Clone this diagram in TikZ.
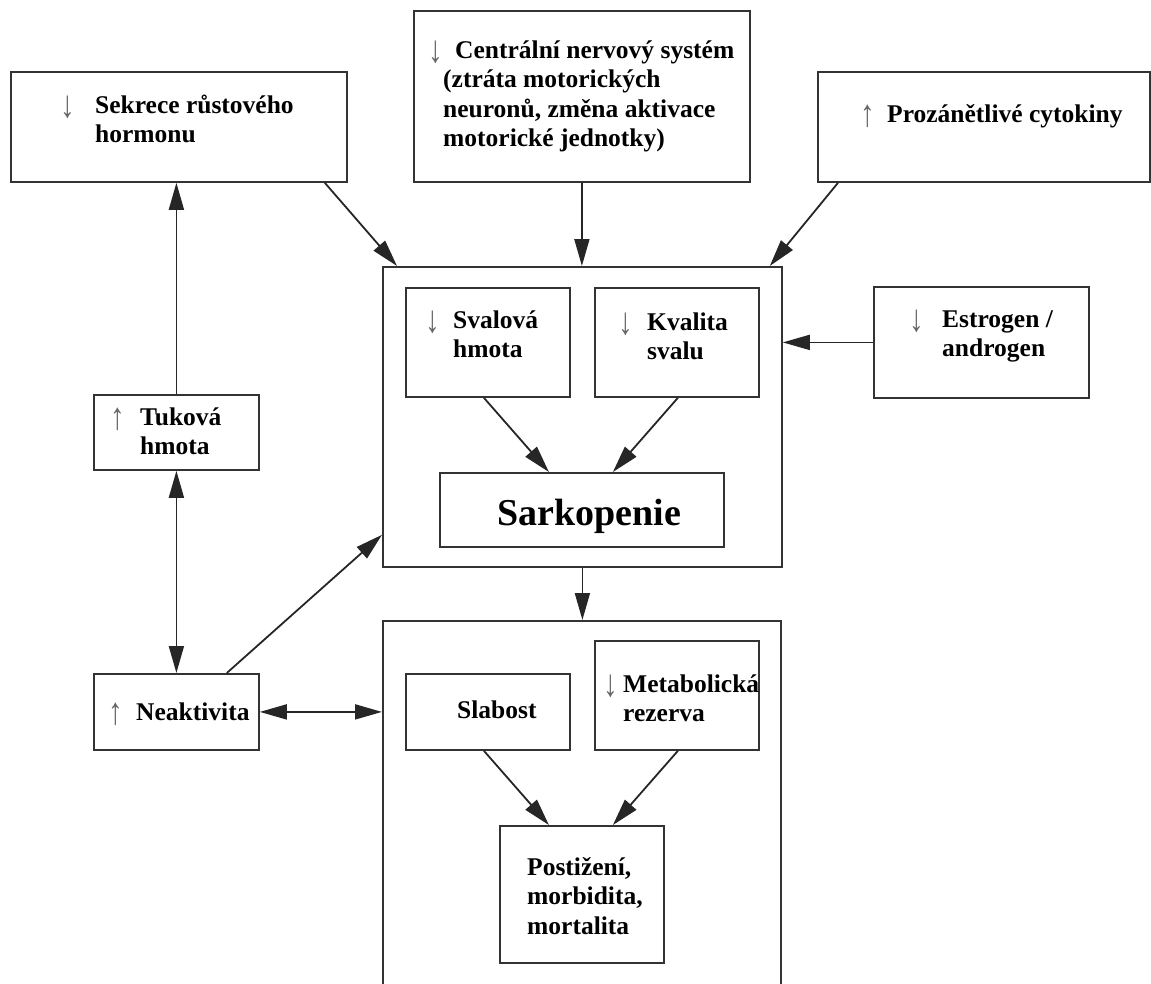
\documentclass[tikz,border=0pt]{standalone}
\usepackage{fontspec}
\usepackage{graphicx}
\setmainfont{Liberation Serif}
\usetikzlibrary{arrows.meta,calc}
\newcommand\dn[1]{\makebox[#1][l]{\raisebox{-4pt}{\scalebox{1.15}[1.5]{\mdseries\color{black!60}↓}}}}
\newcommand\up[1]{\makebox[#1][l]{\raisebox{-4pt}{\scalebox{1.15}[1.5]{\mdseries\color{black!60}↑}}}}

\begin{document}
\begin{tikzpicture}[x=1pt,y=-1pt,
    box/.style={draw=black!80, line width=1.8pt, anchor=north west, inner sep=0pt},
    txt/.style={anchor=base west, inner sep=0pt, font=\fontsize{25.5}{29.5}\selectfont\bfseries},
    arr/.style={draw=black!85, line width=1.8pt, -{Triangle[length=27pt,width=15pt]}},
    darr/.style={draw=black!85, line width=1.8pt, {Triangle[length=27pt,width=15pt]}-{Triangle[length=27pt,width=15pt]}}]
    \useasboundingbox (0,0) rectangle (1151,983);

    \node[box, minimum width=336pt, minimum height=110pt] (sekrece) at (10,71) {};
    \node[box, minimum width=336pt, minimum height=171pt] (cns) at (413,10) {};
    \node[box, minimum width=332pt, minimum height=110pt] (prozan) at (817,71) {};
    \node[box, minimum width=399pt, minimum height=300pt] (sarkbox) at (382,266) {};
    \node[box, minimum width=164pt, minimum height=109pt] (sval) at (405,287) {};
    \node[box, minimum width=164pt, minimum height=109pt] (kval) at (594,287) {};
    \node[box, minimum width=284pt, minimum height=74pt] (sark) at (439,472) {};
    \node[box, minimum width=215pt, minimum height=111pt] (estrogen) at (873,286) {};
    \node[box, minimum width=165pt, minimum height=75pt] (tuk) at (93,394) {};
    \node[box, minimum width=165pt, minimum height=76pt] (neak) at (93,673) {};
    \node[box, minimum width=398pt, minimum height=370pt] (dusledky) at (382,620) {};
    \node[box, minimum width=164pt, minimum height=76pt] (slab) at (405,673) {};
    \node[box, minimum width=164pt, minimum height=109pt] (metab) at (594,640) {};
    \node[box, minimum width=164pt, minimum height=137pt] (post) at (499,825) {};

    \node[txt] (sekrece-t) at (60,113) {\begin{tabular}[t]{@{}l@{}l@{}}\dn{35pt} & Sekrece růstového\\ & hormonu\end{tabular}};
    \node[txt] (cns-t) at (428,58) {\begin{tabular}[t]{@{}l@{}}\dn{27pt}Centrální nervový systém\\ \hspace*{15pt}(ztráta motorických\\ \hspace*{15pt}neuronů, změna aktivace\\ \hspace*{15pt}motorické jednotky)\end{tabular}};
    \node[txt] (prozan-t) at (860,122) {\up{27pt}Prozánětlivé cytokiny};
    \node[txt] (sval-t) at (425,328) {\begin{tabular}[t]{@{}l@{}l@{}}\dn{28pt} & Svalová\\ & hmota\end{tabular}};
    \node[txt] (kval-t) at (618,330) {\begin{tabular}[t]{@{}l@{}l@{}}\dn{29pt} & Kvalita\\ & svalu\end{tabular}};
    \node[txt, font=\fontsize{38}{44}\selectfont\bfseries] (sark-t) at (497,525) {Sarkopenie};
    \node[txt] (estrogen-t) at (909,327) {\begin{tabular}[t]{@{}l@{}l@{}}\dn{33pt} & Estrogen /\\ & androgen\end{tabular}};
    \node[txt] (tuk-t) at (110,425) {\begin{tabular}[t]{@{}l@{}l@{}}\up{30pt} & Tuková\\ & hmota\end{tabular}};
    \node[txt] (neak-t) at (108,720) {\up{28pt}Neaktivita};
    \node[txt] (slab-t) at (457,718) {Slabost};
    \node[txt] (metab-t) at (603,692) {\begin{tabular}[t]{@{}l@{}l@{}}\dn{20pt} & Metabolická\\ & rezerva\end{tabular}};
    \node[txt] (post-t) at (527,875) {\begin{tabular}[t]{@{}l@{}}Postižení,\\morbidita,\\mortalita\end{tabular}};

    \draw[arr] ($(sekrece.south east)+(-23,0)$) -- ($(sarkbox.north west)+(15,0)$);
    \draw[arr] (cns.south) -- (cns.south |- sarkbox.north);
    \draw[arr] ($(prozan.south west)+(21,0)$) -- ($(sarkbox.north east)+(-13,0)$);
    \draw[arr] (estrogen.west) -- (estrogen.west -| sarkbox.east);
    \draw[arr] (tuk.north) -- (tuk.north |- sekrece.south);
    \draw[darr] (tuk.south) -- (neak.north);
    \draw[arr] ($(neak.north east)+(-33,0)$) -- ($(sarkbox.south west)+(0,-33)$);
    \draw[darr] (neak.east) -- (neak.east -| dusledky.west);
    \draw[arr] (sarkbox.south) -- (sarkbox.south |- dusledky.north);
    \draw[arr] ($(sval.south)+(-4,0)$) -- ($(sark.north)+(-33,0)$);
    \draw[arr] ($(kval.south)+(1,0)$) -- ($(sark.north)+(31,0)$);
    \draw[arr] ($(slab.south)+(-4,0)$) -- ($(post.north)+(-33,0)$);
    \draw[arr] ($(metab.south)+(1,0)$) -- ($(post.north)+(31,0)$);
\end{tikzpicture}
\end{document}
